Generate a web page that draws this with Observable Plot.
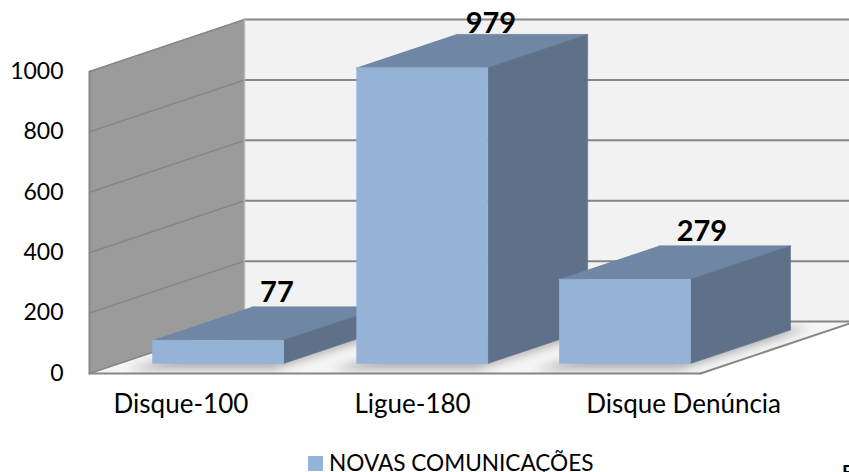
<!DOCTYPE html>
<html>
<head>
<meta charset="utf-8">
<script src="https://cdn.jsdelivr.net/npm/d3@7"></script>
<script src="https://cdn.jsdelivr.net/npm/@observablehq/plot@0.6"></script>
<style>
  html, body { margin: 0; padding: 0; background: #fff; overflow: hidden; }
  svg { display: block; }
  #legend { position: relative; width: 849px; height: 27px; overflow: hidden; font-family: Lato, sans-serif; color: #000; }
  #swatch { position: absolute; left: 308px; top: 11px; width: 15px; height: 15px; background: #95b3d7; }
  #name { position: absolute; left: 329px; top: 4px; font-size: 22.6px; line-height: 27px; white-space: nowrap; }
  #cut { position: absolute; left: 842px; top: 13px; font-size: 19px; font-weight: 700; line-height: 27px; }
</style>
</head>
<body>
<div id="chart"></div>
<div id="legend"><span id="swatch"></span><span id="name"></span><span id="cut">F</span></div>
<script>
const categories = ["Disque-100", "Ligue-180", "Disque Denúncia"];
const values = [77, 979, 279];
const yTicks = [0, 200, 400, 600, 800, 1000];
const seriesName = "NOVAS COMUNICAÇÕES";

// Layout of the 3-D projection, in scale units
const depthX = 0.761, depthY = 172;
const barStart = [0.162, 1.164, 2.16], barWidth = 0.645;
const zFront = 0.192, zBack = 0.837;
const catLabelX = [0.449, 1.586, 2.917];
const valueNudge = [0.044, 0.093, 0.133];
const valueLift = [0, -10, 0];

const pr = ([u, z, v]) => ({x: u + z * depthX, y: v + z * depthY});
const poly = (pts, fill) =>
  Plot.line(pts.map(pr), {x: "x", y: "y", fill, stroke: fill, strokeWidth: 0.6});
const seg = (a, b, stroke = "#868686", strokeWidth = 2) =>
  Plot.line([a, b].map(pr), {x: "x", y: "y", stroke, strokeWidth});

const shadowColor = "#b0b0b0";
const shadows = categories.map((c, i) => {
  const a = barStart[i], b = a + barWidth;
  return poly([[a - 0.03, zFront - 0.11, 0], [b + 0.03, zFront - 0.11, 0], [b + 0.06, zBack + 0.03, 0], [a + 0.1, zBack + 0.03, 0]], shadowColor);
});

const bars = categories.flatMap((c, i) => {
  const a = barStart[i], b = a + barWidth, v = values[i];
  return [
    poly([[a, zFront, v], [b, zFront, v], [b, zBack, v], [a, zBack, v]], "#7086a5"),
    poly([[b, zFront, 0], [b, zBack, 0], [b, zBack, v], [b, zFront, v]], "#5f7089"),
    poly([[a, zFront, 0], [b, zFront, 0], [b, zFront, v], [a, zFront, v]], "#95b3d7")
  ];
});

const chart = Plot.plot({
  width: 849,
  height: 445,
  marginLeft: 89,
  marginRight: 149,
  marginTop: 71,
  marginBottom: 72,
  style: {fontFamily: "Lato, sans-serif", background: "#fff", color: "#000"},
  x: {domain: [0, 3], range: [89, 700], axis: null},
  y: {domain: [0, 1000], range: [373, 71]},
  marks: [
    // floor with soft shadows, trimmed by a white mask
    poly([[0, 0, 0], [3, 0, 0], [3, 1, 0], [0, 1, 0]], "#f5f5f5"),
    ...shadows,
    poly([[-0.4, 0, 0], [3, 0, 0], [3, 1, 0], [4.3, 1, 0], [4.3, 0, -250], [-0.4, 0, -250]], "#ffffff"),
    // back wall and side wall
    poly([[0, 1, 0], [3, 1, 0], [3, 1, 1000], [0, 1, 1000]], "#f2f2f2"),
    poly([[0, 0, 0], [0, 1, 0], [0, 1, 1000], [0, 0, 1000]], "#9b9b9b"),
    ...yTicks.map(t => seg([0, 1, t], [3, 1, t])),
    ...yTicks.map(t => seg([0, 0, t], [0, 1, t], "#868686", 1.5)),
    seg([0, 1, 0], [0, 1, 1000], "#b8b8b8", 1.5),
    seg([0, 0, 0], [0, 0, 1000]),
    seg([0, 0, 0], [3, 0, 0]),
    seg([3, 0, 0], [3, 1, 0]),
    ...bars,
    Plot.axisY({anchor: "left", ticks: yTicks, tickSize: 0, tickPadding: 26, tickFormat: "d", label: null, fontSize: 23}),
    Plot.text(categories, {
      x: (d, i) => catLabelX[i], y: () => 0, dy: 31, text: d => d,
      fontSize: 26, fill: "#000"
    }),
    Plot.text(values, {
      x: (d, i) => barStart[i] + barWidth / 2 + (zFront + zBack) / 2 * depthX + valueNudge[i],
      y: (d, i) => d + zBack * depthY + valueLift[i], dy: -14, text: d => String(d),
      fontSize: 29, fontWeight: 700, fill: "#000"
    })
  ]
});

d3.select(chart).selectAll(`g[fill="${shadowColor}"]`).style("filter", "blur(5px)");
document.getElementById("chart").appendChild(chart);
document.getElementById("name").textContent = seriesName;
</script>
</body>
</html>
